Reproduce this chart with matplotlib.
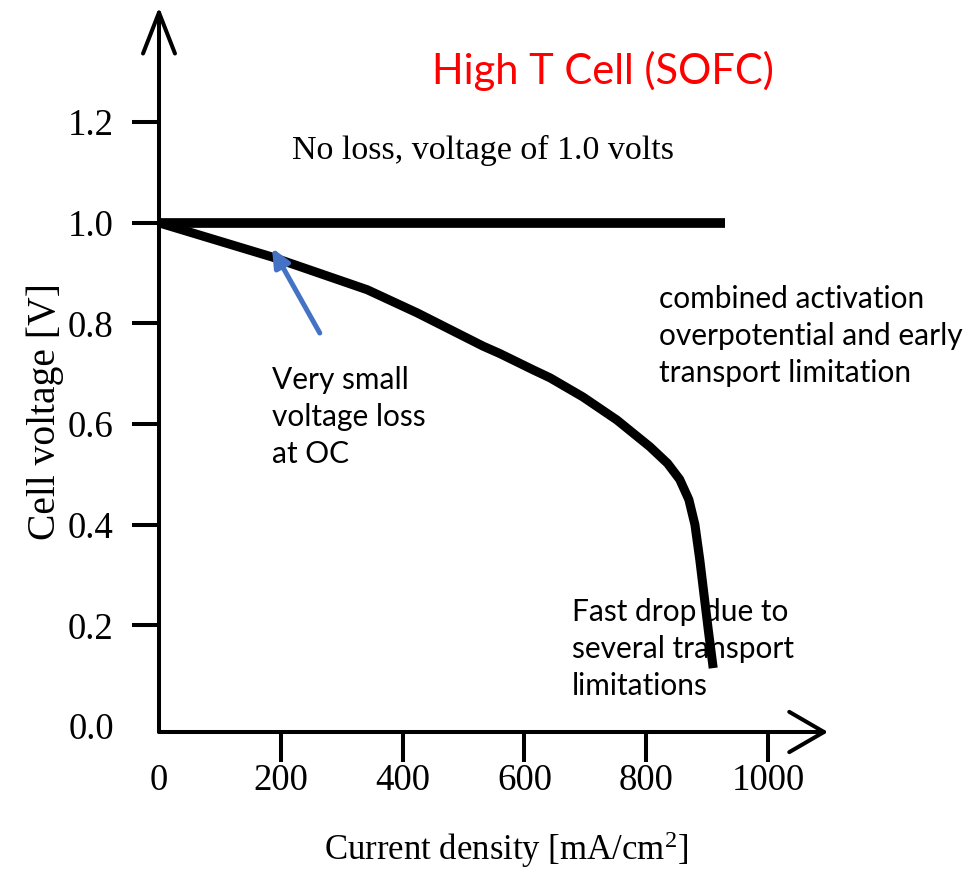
import matplotlib
matplotlib.use("Agg")
import matplotlib.pyplot as plt

# ---- data ----
current = [0, 186, 342, 424, 532, 560, 614, 642, 696, 752, 806, 835, 855, 870, 880, 888, 895, 902, 910]
voltage = [1.0, 0.932, 0.867, 0.821, 0.755, 0.740, 0.708, 0.692, 0.654, 0.608, 0.555, 0.522,
           0.490, 0.450, 0.400, 0.330, 0.260, 0.190, 0.115]
ideal_current = [0, 930]
ideal_voltage = [1.0, 1.0]
xticks = [0, 200, 400, 600, 800, 1000]
xtick_labels = ["0", "200", "400", "600", "800", "1000"]
yticks = [0.0, 0.2, 0.4, 0.6, 0.8, 1.0, 1.2]
ytick_labels = ["0.0", "0.2", "0.4", "0.6", "0.8", "1.0", "1.2"]

W, H = 968, 869
plt.rcParams['mathtext.fontset'] = 'custom'
plt.rcParams['mathtext.rm'] = 'Liberation Serif'
plt.rcParams['mathtext.it'] = 'Liberation Serif:italic'

fig = plt.figure(figsize=(W / 100, H / 100), dpi=100)
ax = fig.add_axes([159 / W, (H - 732) / H, (828 - 159) / W, (732 - 7) / H])
ax.set_xlim(0, 1098.5)
ax.set_ylim(-0.012, 1.429)
for s in ax.spines.values():
    s.set_visible(False)
ax.patch.set_visible(False)

serif = "Liberation Serif"
sans = "Lato"

# axes arrows
ax.annotate("", xy=(0, 1), xytext=(0, 0), xycoords="axes fraction",
            arrowprops=dict(arrowstyle="->,head_length=29.5,head_width=11.5", lw=2.9,
                            color="black", shrinkA=0, shrinkB=0, mutation_scale=1))
ax.annotate("", xy=(1, 0), xytext=(0, 0), xycoords="axes fraction",
            arrowprops=dict(arrowstyle="->,head_length=25,head_width=14.5", lw=2.9,
                            color="black", shrinkA=0, shrinkB=0, mutation_scale=1))

# ticks
ax.set_xticks(xticks)
ax.set_xticklabels(xtick_labels, fontfamily=serif, fontsize=26.5)
ax.set_yticks(yticks)
ax.set_yticklabels(ytick_labels, fontfamily=serif, fontsize=26.5)
ax.tick_params(axis="x", direction="out", length=21.5, width=2.9, pad=1)
ax.tick_params(axis="y", direction="out", length=19.5, width=2.9, pad=13)
ax.xaxis.get_major_ticks()[0].tick1line.set_visible(False)
ax.yaxis.get_major_ticks()[0].tick1line.set_visible(False)

# labels
ax.set_xlabel("Current density [mA/cm$^{2}$]", fontfamily=serif, fontsize=25)
ax.xaxis.set_label_coords((506 - 159) / 669, (732 - 850) / 725)
ax.xaxis.label.set_verticalalignment("center")
ax.set_ylabel("Cell voltage [V]", fontfamily=serif, fontsize=28.5)
ax.yaxis.set_label_coords((45 - 159) / 669, (732 - 411) / 725)
ax.yaxis.label.set_verticalalignment("center")

# lines
ax.plot(ideal_current, ideal_voltage, color="black", lw=7, solid_capstyle="butt", zorder=5)
ax.plot(current, voltage, color="black", lw=6.5, solid_capstyle="butt",
        solid_joinstyle="round", zorder=6)

# texts
def ftext(px, py, s, **kw):
    fig.text(px / W, 1 - py / H, s, **kw)

ftext(603, 71, "High T Cell (SOFC)", color="red", fontfamily=sans, fontsize=30,
      ha="center", va="center")
ftext(292, 150, "No loss, voltage of 1.0 volts", color="black", fontfamily=serif,
      fontsize=24.5, ha="left", va="center")
ftext(659, 336, "combined activation\noverpotential and early\ntransport limitation",
      fontfamily=sans, fontsize=21.5, ha="left", va="center", linespacing=1.4)
ftext(272, 417, "Very small\nvoltage loss\nat OC", fontfamily=sans, fontsize=21.5,
      ha="left", va="center", linespacing=1.4)
ftext(572, 649, "Fast drop due to\nseveral transport\nlimitations", fontfamily=sans,
      fontsize=21.5, ha="left", va="center", linespacing=1.4, zorder=1)

# blue arrow
ax.annotate("", xy=(185.6, 0.950), xytext=(264, 0.781),
            arrowprops=dict(arrowstyle="-|>,head_length=11,head_width=5", lw=3.6,
                            color="#4472C4", shrinkA=0, shrinkB=0, mutation_scale=1),
            zorder=7)

fig.savefig("out.png", dpi=100)
